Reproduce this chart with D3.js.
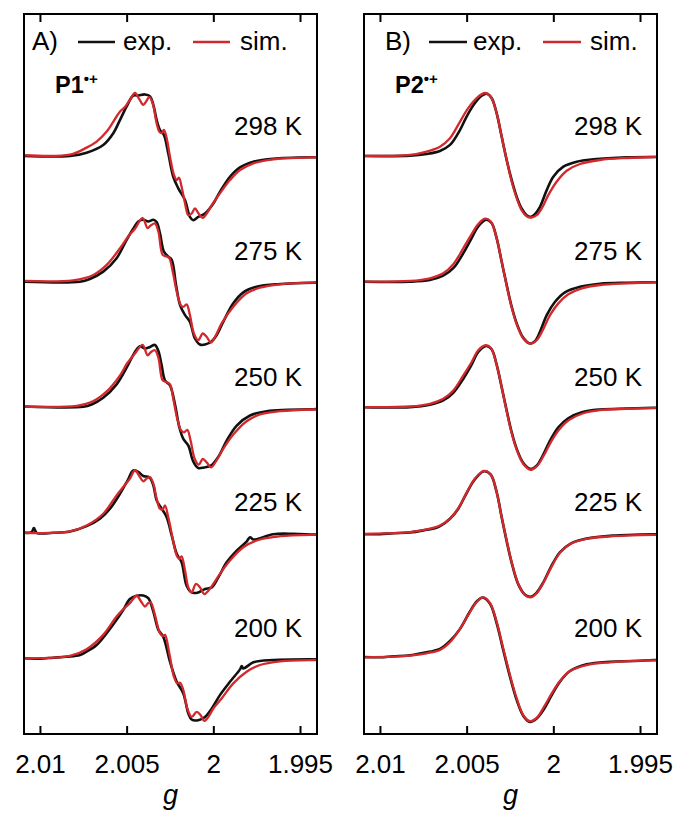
<!DOCTYPE html>
<html>
<head>
<meta charset="utf-8">
<script src="https://cdn.jsdelivr.net/npm/d3@7"></script>
<style>
  html, body { margin: 0; padding: 0; background: #fff; }
  svg { display: block; font-family: "Liberation Sans", Arial, Helvetica, sans-serif; }
</style>
</head>
<body>
<svg id="chart" width="675" height="814"></svg>
<script>
// ---- Spectra: [g, intensity (a.u.)] pairs, one array per trace ----
const temperatures = ["298 K", "275 K", "250 K", "225 K", "200 K"];
const gTicks = [2.01, 2.005, 2, 1.995];
const gTickLabels = ["2.01", "2.005", "2", "1.995"];
const legendLabels = ["exp.", "sim."];

// P1 radical cation, experimental
const p1Exp298 = [[2.0109,1],[2.00827,1],[2.00731,4.3],[2.00635,12],[2.00577,23.7],[2.00538,37],[2.00500,50.3],[2.00462,61],[2.00433,61.3],[2.00394,62.3],[2.00365,60.3],[2.00346,52],[2.00327,37],[2.00308,27],[2.00285,22],[2.00260,3.7],[2.00231,-19.7],[2.00202,-31.3],[2.00163,-43],[2.00135,-59.7],[2.00116,-63],[2.00087,-59.7],[2.00048,-56.3],[2.00000,-46.3],[1.99962,-34.7],[1.99904,-19.7],[1.99846,-10.3],[1.99769,-4.7],[1.99654,-1.7],[1.99423,-0.3],[1.9940,-0.3]];
const p1Exp275 = [[2.0109,0.8],[2.00769,0.8],[2.00712,3.5],[2.00635,10.8],[2.00558,24.2],[2.00500,42.5],[2.00462,53.5],[2.00433,60.8],[2.00404,62.5],[2.00375,60.8],[2.00346,62.5],[2.00327,60.2],[2.00308,49.2],[2.00285,30.8],[2.00260,25.8],[2.00240,22.5],[2.00215,-2.5],[2.00192,-22.5],[2.00163,-32.5],[2.00135,-39.2],[2.00106,-55.8],[2.00077,-61.8],[2.00048,-61.8],[2.00009,-58.5],[1.99981,-52.5],[1.99943,-39.2],[1.99885,-20.8],[1.99827,-9.8],[1.99750,-4.2],[1.99615,-1.5],[1.99423,-0.2],[1.9940,-0.2]];
const p1Exp250 = [[2.0109,1.5],[2.00750,1.2],[2.00702,3.5],[2.00635,10.2],[2.00558,23.5],[2.00500,40.2],[2.00452,55.8],[2.00423,61.5],[2.00394,59.2],[2.00365,60.8],[2.00337,62.8],[2.00317,56.8],[2.00298,42.5],[2.00279,27.5],[2.00250,22.5],[2.00221,3.5],[2.00196,-19.2],[2.00173,-30.8],[2.00144,-37.5],[2.00116,-53.2],[2.00087,-59.8],[2.00054,-59.2],[2.00015,-57.5],[1.99971,-48.5],[1.99923,-32.5],[1.99865,-17.5],[1.99788,-7.5],[1.99692,-3.2],[1.99423,-1.2],[1.9940,-1.2]];
const p1Exp225 = [[2.0109,0.7],[2.01048,1.3],[2.01035,5.3],[2.01019,0.7],[2.00923,0.7],[2.00827,2],[2.00731,7.3],[2.00654,14.7],[2.00596,24.7],[2.00538,39.7],[2.00491,54],[2.00462,62.7],[2.00433,61.3],[2.00404,57.3],[2.00369,56],[2.00346,48],[2.00327,33],[2.00298,24.7],[2.00269,16.3],[2.00240,-2],[2.00211,-20.3],[2.00183,-28.7],[2.00154,-52],[2.00125,-58.7],[2.00087,-58.7],[2.00048,-55.3],[2.00009,-53.7],[1.99971,-43.7],[1.99923,-28.7],[1.99865,-17],[1.99808,-8],[1.99788,-3.7],[1.99769,-6],[1.99654,-0.7],[1.99539,-0.3],[1.99423,-1],[1.9940,-1]];
const p1Exp200 = [[2.0109,0.7],[2.01,0.3],[2.00923,1.3],[2.00846,2.3],[2.00769,4],[2.00731,7.3],[2.00673,14],[2.00615,25.7],[2.00558,39],[2.00519,49],[2.00481,59.7],[2.00442,63],[2.00404,63.3],[2.00375,60.7],[2.00346,47.3],[2.00317,29],[2.00289,22.3],[2.00250,-2.7],[2.00211,-22.7],[2.00173,-34.3],[2.00144,-54.3],[2.00125,-60.3],[2.00087,-61],[2.00048,-57.7],[2.00009,-49.3],[1.99962,-36],[1.99904,-22.7],[1.99846,-10.3],[1.99836,-7],[1.99827,-9.5],[1.99769,-3.3],[1.99654,-1],[1.99423,-0.3],[1.9940,-0.3]];

// P1 radical cation, simulated
const p1Sim298 = [[2.0109,1.7],[2.00827,2.3],[2.00731,9.3],[2.00673,15.3],[2.00615,25.3],[2.00558,40.3],[2.00538,45.3],[2.00510,49.7],[2.00481,57],[2.00452,63.7],[2.00427,57.7],[2.00404,52],[2.00384,56.3],[2.00369,59.7],[2.00350,53.7],[2.00327,33.7],[2.00312,25.3],[2.00298,23.7],[2.00285,27],[2.00269,18.7],[2.00250,0.3],[2.00227,-18],[2.00211,-23],[2.00198,-20.7],[2.00183,-29.7],[2.00163,-46.3],[2.00144,-58],[2.00125,-56.3],[2.00106,-51.3],[2.00087,-55.7],[2.00061,-60.7],[2.00038,-56.3],[2.00009,-48],[1.99962,-36.3],[1.99904,-23],[1.99846,-13],[1.99769,-6.3],[1.99654,-2.3],[1.99423,-0.3],[1.9940,-0.3]];
const p1Sim275 = [[2.0109,1.5],[2.00808,2.2],[2.00692,7.5],[2.00615,17.5],[2.00538,34.2],[2.00491,45.8],[2.00452,53.5],[2.00408,64.2],[2.00379,54.2],[2.00361,56.8],[2.00337,58.8],[2.00317,50.8],[2.00292,27.5],[2.00269,25.8],[2.00254,24.2],[2.00234,10.8],[2.00211,-9.2],[2.00188,-22.5],[2.00173,-24.2],[2.00154,-21.8],[2.00135,-32.5],[2.00112,-50.8],[2.00087,-57.5],[2.00061,-50.8],[2.00038,-54.2],[2.00015,-59.8],[1.99990,-54.2],[1.99952,-40.8],[1.99885,-24.2],[1.99808,-10.8],[1.99731,-5.2],[1.99615,-1.8],[1.99423,-0.2],[1.9940,-0.2]];
const p1Sim250 = [[2.0109,1.5],[2.00788,2.2],[2.00692,6.8],[2.00615,16.5],[2.00538,32.5],[2.00496,44.8],[2.00452,54.2],[2.00408,62.8],[2.00379,52.5],[2.00361,55.5],[2.00337,57.5],[2.00317,50.2],[2.00292,27.5],[2.00269,25.8],[2.00250,23.5],[2.00231,9.2],[2.00208,-10.8],[2.00185,-22.5],[2.00169,-24.2],[2.00150,-21.8],[2.00131,-32.5],[2.00107,-50.8],[2.00084,-56.5],[2.00061,-50.8],[2.00038,-54.2],[2.00013,-59.2],[1.99985,-53.2],[1.99943,-40.8],[1.99885,-26.5],[1.99808,-13.2],[1.99731,-6.5],[1.99615,-3.2],[1.99423,-1.5],[1.9940,-1.5]];
const p1Sim225 = [[2.0109,0.7],[2.00827,2],[2.00731,8],[2.00635,19.7],[2.00558,38],[2.00515,47.3],[2.00481,54.7],[2.00452,63],[2.00427,57.3],[2.00404,52],[2.00384,54.7],[2.00365,56],[2.00346,49.7],[2.00327,34.7],[2.00308,24.7],[2.00292,24],[2.00279,28],[2.00260,16.3],[2.00234,-5.3],[2.00211,-22],[2.00196,-25.3],[2.00183,-22.7],[2.00163,-37],[2.00144,-53.7],[2.00125,-58.7],[2.00100,-50.3],[2.00077,-53.7],[2.00052,-60.3],[2.00029,-57],[2.00000,-50.3],[1.99962,-40.3],[1.99904,-27],[1.99827,-13.7],[1.99731,-6],[1.99615,-2.7],[1.99423,-1.3],[1.9940,-1.3]];
const p1Sim200 = [[2.0109,0.7],[2.00827,3],[2.00731,9.7],[2.00635,24],[2.00558,42.3],[2.00519,49.7],[2.00481,55.7],[2.00442,63],[2.00417,57.3],[2.00394,52.3],[2.00375,55.7],[2.00361,56.3],[2.00337,44],[2.00308,25.7],[2.00292,23],[2.00279,24],[2.00254,5.7],[2.00227,-17.7],[2.00208,-24.3],[2.00192,-23.7],[2.00173,-31],[2.00150,-49.3],[2.00125,-57.7],[2.00096,-52.7],[2.00073,-56],[2.00052,-61.7],[2.00029,-57.7],[2.00000,-49.3],[1.99952,-39.3],[1.99885,-24.3],[1.99808,-12.7],[1.99731,-6],[1.99615,-2.3],[1.99423,-1],[1.9940,-1]];

// P2 radical cation, experimental
const p2Exp298 = [[2.0109,1],[2.00827,1.3],[2.00731,3],[2.00654,6],[2.00596,12],[2.00538,27],[2.00500,40.3],[2.00452,53.7],[2.00413,61],[2.00384,63],[2.00356,58.7],[2.00327,43.7],[2.00298,20.3],[2.00269,-3],[2.00240,-23],[2.00211,-39.7],[2.00183,-51.3],[2.00154,-58],[2.00131,-59.7],[2.00106,-57],[2.00077,-49.7],[2.00038,-33],[2.00000,-19.7],[1.99942,-9.7],[1.99865,-4.7],[1.99769,-2.3],[1.99577,-0.3],[1.99423,0],[1.9940,0]];
const p2Exp275 = [[2.0109,0.8],[2.00827,0.8],[2.00712,2.5],[2.00635,6.8],[2.00577,14.2],[2.00519,29.2],[2.00471,44.2],[2.00433,55.8],[2.00388,62.5],[2.00356,59.2],[2.00327,44.2],[2.00298,20.8],[2.00269,-2.5],[2.00240,-24.2],[2.00211,-40.8],[2.00173,-55.2],[2.00135,-60.8],[2.00106,-58.5],[2.00077,-49.2],[2.00038,-32.5],[1.99990,-19.2],[1.99933,-9.8],[1.99846,-4.2],[1.99731,-1.2],[1.99577,-0.2],[1.99423,0.2],[1.9940,0.2]];
const p2Exp250 = [[2.0109,0.8],[2.00827,0.8],[2.00712,3.2],[2.00635,7.5],[2.00577,15.2],[2.00519,29.2],[2.00471,43.2],[2.00433,55.8],[2.00388,61.8],[2.00356,58.5],[2.00327,43.2],[2.00298,20.8],[2.00269,-2.5],[2.00240,-24.2],[2.00211,-40.8],[2.00173,-54.8],[2.00131,-60.8],[2.00096,-57.5],[2.00061,-47.5],[2.00019,-32.5],[1.99971,-19.2],[1.99914,-10.2],[1.99836,-4.2],[1.99731,-1.5],[1.99577,-0.5],[1.99423,0.2],[1.9940,0.2]];
const p2Exp225 = [[2.0109,-0.7],[2.01,-0.7],[2.00923,0.3],[2.00827,1],[2.00731,3.7],[2.00683,5.3],[2.00654,7.3],[2.00596,14.7],[2.00548,24.7],[2.00500,40.3],[2.00452,54],[2.00400,62],[2.00361,58.7],[2.00327,41.3],[2.00298,16.3],[2.00269,-7.7],[2.00240,-29.3],[2.00202,-50.7],[2.00163,-61],[2.00131,-63],[2.00100,-59.7],[2.00061,-49.7],[2.00015,-33.7],[1.99962,-18.7],[1.99900,-10],[1.99808,-5],[1.99654,-2],[1.99539,-1.3],[1.99423,-0.7],[1.9940,-0.7]];
const p2Exp200 = [[2.0109,2],[2.01,1.7],[2.00923,2.7],[2.00827,3.7],[2.00731,6.7],[2.00692,8],[2.00654,10],[2.00596,18],[2.00538,30],[2.00481,47.3],[2.00442,57.3],[2.00408,61.3],[2.00365,55],[2.00327,35.7],[2.00289,9],[2.00250,-17.7],[2.00211,-41],[2.00173,-56.7],[2.00135,-62.7],[2.00096,-59.3],[2.00058,-51],[2.00009,-36],[1.99962,-22.7],[1.99904,-12],[1.99808,-5.3],[1.99673,-2.7],[1.99539,-2],[1.99423,-1],[1.9940,-1]];

// P2 radical cation, simulated
const p2Sim298 = [[2.0109,1],[2.00827,2],[2.00731,5.3],[2.00654,10.3],[2.00596,18.7],[2.00538,35.3],[2.00491,48.7],[2.00442,58.7],[2.00394,63.7],[2.00361,60.3],[2.00327,43.7],[2.00298,20.3],[2.00269,-3],[2.00240,-24.7],[2.00211,-41.3],[2.00183,-53],[2.00154,-59],[2.00125,-60.3],[2.00096,-58],[2.00067,-51.3],[2.00029,-38],[1.99981,-24.7],[1.99923,-13.7],[1.99846,-7],[1.99731,-3],[1.99577,-1],[1.99423,0],[1.9940,0]];
const p2Sim275 = [[2.0109,0.8],[2.00827,1.5],[2.00712,4.2],[2.00635,9.2],[2.00577,18.2],[2.00519,34.2],[2.00471,48.2],[2.00433,58.2],[2.00394,63.5],[2.00361,60.8],[2.00327,44.2],[2.00298,20.8],[2.00269,-3.2],[2.00240,-25.2],[2.00211,-41.8],[2.00173,-55.8],[2.00131,-60.8],[2.00096,-57.5],[2.00061,-47.5],[2.00019,-32.5],[1.99971,-20.8],[1.99914,-11.8],[1.99836,-5.8],[1.99731,-2.5],[1.99577,-0.8],[1.99423,0.2],[1.9940,0.2]];
const p2Sim250 = [[2.0109,0.8],[2.00827,1.5],[2.00712,4.2],[2.00635,9.2],[2.00577,17.5],[2.00519,32.5],[2.00471,45.8],[2.00433,57.5],[2.00390,62.5],[2.00360,59.8],[2.00327,43.2],[2.00298,20.8],[2.00269,-3.5],[2.00240,-25.2],[2.00211,-41.8],[2.00173,-55.8],[2.00131,-61.5],[2.00096,-58.2],[2.00058,-48.2],[2.00015,-34.2],[1.99966,-21.5],[1.99908,-11.8],[1.99831,-5.5],[1.99731,-2.2],[1.99577,-0.8],[1.99423,-0.2],[1.9940,-0.2]];
const p2Sim225 = [[2.0109,-0.3],[2.00923,0.3],[2.00827,1.3],[2.00731,4],[2.00654,8],[2.00596,14.7],[2.00548,25.3],[2.00500,40.7],[2.00452,54.7],[2.00400,62.3],[2.00361,58.7],[2.00327,41.3],[2.00298,16.3],[2.00269,-7],[2.00240,-28.7],[2.00202,-50.3],[2.00163,-61.3],[2.00131,-63.7],[2.00100,-60.3],[2.00061,-50.3],[2.00015,-34.7],[1.99962,-19.3],[1.99900,-10.3],[1.99808,-5.3],[1.99654,-2.7],[1.99423,-1.3],[1.9940,-1.3]];
const p2Sim200 = [[2.0109,1.7],[2.00923,2.3],[2.00827,3.3],[2.00731,5.7],[2.00654,9],[2.00596,16.7],[2.00538,30],[2.00481,46.7],[2.00442,56.7],[2.00404,61.3],[2.00365,55.7],[2.00327,37.3],[2.00289,10.7],[2.00250,-16],[2.00211,-39.3],[2.00173,-56],[2.00135,-62],[2.00096,-58.7],[2.00054,-47.7],[2.00009,-34.3],[1.99962,-22],[1.99904,-12],[1.99808,-6],[1.99673,-3.3],[1.99423,-1.3],[1.9940,-1.3]];

// ---- Layout ----
const svg = d3.select("#chart");
const frameTop = 14, frameBottom = 734;
const gDomain = [2.01092, 1.99402];
const spacing = 125;                 // vertical offset between stacked spectra (a.u.)
const yDomain = [-74.7, 642.4];
const expColor = "#111111", simColor = "#d3292d";

const panels = [
  { id: "A", left: 24, right: 317, tag: "A)", tagX: 32, legendX: [78, 115, 123, 193, 230, 240],
    label: "P1", exp: [p1Exp298, p1Exp275, p1Exp250, p1Exp225, p1Exp200],
    sim: [p1Sim298, p1Sim275, p1Sim250, p1Sim225, p1Sim200] },
  { id: "B", left: 364, right: 657, tag: "B)", tagX: 385, legendX: [429, 467, 473, 543, 581, 590],
    label: "P2", exp: [p2Exp298, p2Exp275, p2Exp250, p2Exp225, p2Exp200],
    sim: [p2Sim298, p2Sim275, p2Sim250, p2Sim225, p2Sim200] }
];

panels.forEach(p => {
  const x = d3.scaleLinear().domain(gDomain).range([p.left, p.right]);
  const y = d3.scaleLinear().domain(yDomain).range([frameBottom, frameTop]);
  const n = temperatures.length;
  const offsetOf = i => (n - 1 - i) * spacing;

  const clipId = "clip" + p.id;
  svg.append("clipPath").attr("id", clipId)
    .append("rect").attr("x", p.left).attr("y", frameTop)
    .attr("width", p.right - p.left).attr("height", frameBottom - frameTop);

  const plot = svg.append("g").attr("clip-path", `url(#${clipId})`);

  const lineFor = off => d3.line()
    .x(d => x(d[0]))
    .y(d => y(d[1] + off))
    .curve(d3.curveCatmullRom.alpha(0.5));

  // experimental traces underneath, simulations drawn over them
  p.exp.forEach((s, i) => {
    plot.append("path").datum(s).attr("d", lineFor(offsetOf(i)))
      .attr("fill", "none").attr("stroke", expColor).attr("stroke-width", 2.6)
      .attr("stroke-linejoin", "round");
  });
  p.sim.forEach((s, i) => {
    plot.append("path").datum(s).attr("d", lineFor(offsetOf(i)))
      .attr("fill", "none").attr("stroke", simColor).attr("stroke-width", 2.3)
      .attr("stroke-linejoin", "round");
  });

  // temperature labels
  temperatures.forEach((t, i) => {
    svg.append("text").attr("x", p.right - 15).attr("y", y(offsetOf(i)) - 22)
      .attr("text-anchor", "end").attr("font-size", 26).attr("fill", "#000").text(t);
  });

  // axes (ticks pointing inward on top and bottom)
  const bottom = svg.append("g").attr("transform", `translate(0,${frameBottom})`)
    .call(d3.axisBottom(x).tickValues(gTicks).tickSize(-8).tickPadding(20.5)
      .tickFormat((d, i) => gTickLabels[i]));
  bottom.select(".domain").remove();
  bottom.selectAll(".tick line").attr("stroke", "#000").attr("stroke-width", 2);
  bottom.selectAll(".tick text").attr("font-size", 26).attr("fill", "#000")
    .attr("font-family", "Liberation Sans, Arial, sans-serif");

  const top = svg.append("g").attr("transform", `translate(0,${frameTop})`)
    .call(d3.axisTop(x).tickValues(gTicks).tickSize(-8).tickFormat(""));
  top.select(".domain").remove();
  top.selectAll(".tick line").attr("stroke", "#000").attr("stroke-width", 2);

  // frame
  svg.append("rect").attr("x", p.left).attr("y", frameTop)
    .attr("width", p.right - p.left).attr("height", frameBottom - frameTop)
    .attr("fill", "none").attr("stroke", "#000").attr("stroke-width", 2);

  // axis title
  svg.append("text").attr("x", (p.left + p.right) / 2).attr("y", 804)
    .attr("text-anchor", "middle").attr("font-size", 27).attr("font-style", "italic")
    .attr("fill", "#000").text("g");

  // legend
  const lx = p.legendX, ly = 42;
  svg.append("text").attr("x", p.tagX).attr("y", 50).attr("font-size", 26).text(p.tag);
  svg.append("line").attr("x1", lx[0]).attr("x2", lx[1]).attr("y1", ly).attr("y2", ly)
    .attr("stroke", expColor).attr("stroke-width", 2.4);
  svg.append("text").attr("x", lx[2]).attr("y", 50).attr("font-size", 26).text(legendLabels[0]);
  svg.append("line").attr("x1", lx[3]).attr("x2", lx[4]).attr("y1", ly).attr("y2", ly)
    .attr("stroke", simColor).attr("stroke-width", 2.4);
  svg.append("text").attr("x", lx[5]).attr("y", 50).attr("font-size", 26).text(legendLabels[1]);

  // compound label with radical-cation superscript
  const lab = svg.append("text").attr("x", p.left + 31).attr("y", 93)
    .attr("font-size", 23.5).attr("font-weight", "bold").text(p.label);
  lab.append("tspan").attr("font-size", 15).attr("dy", -9).text("•+");
});
</script>
</body>
</html>
